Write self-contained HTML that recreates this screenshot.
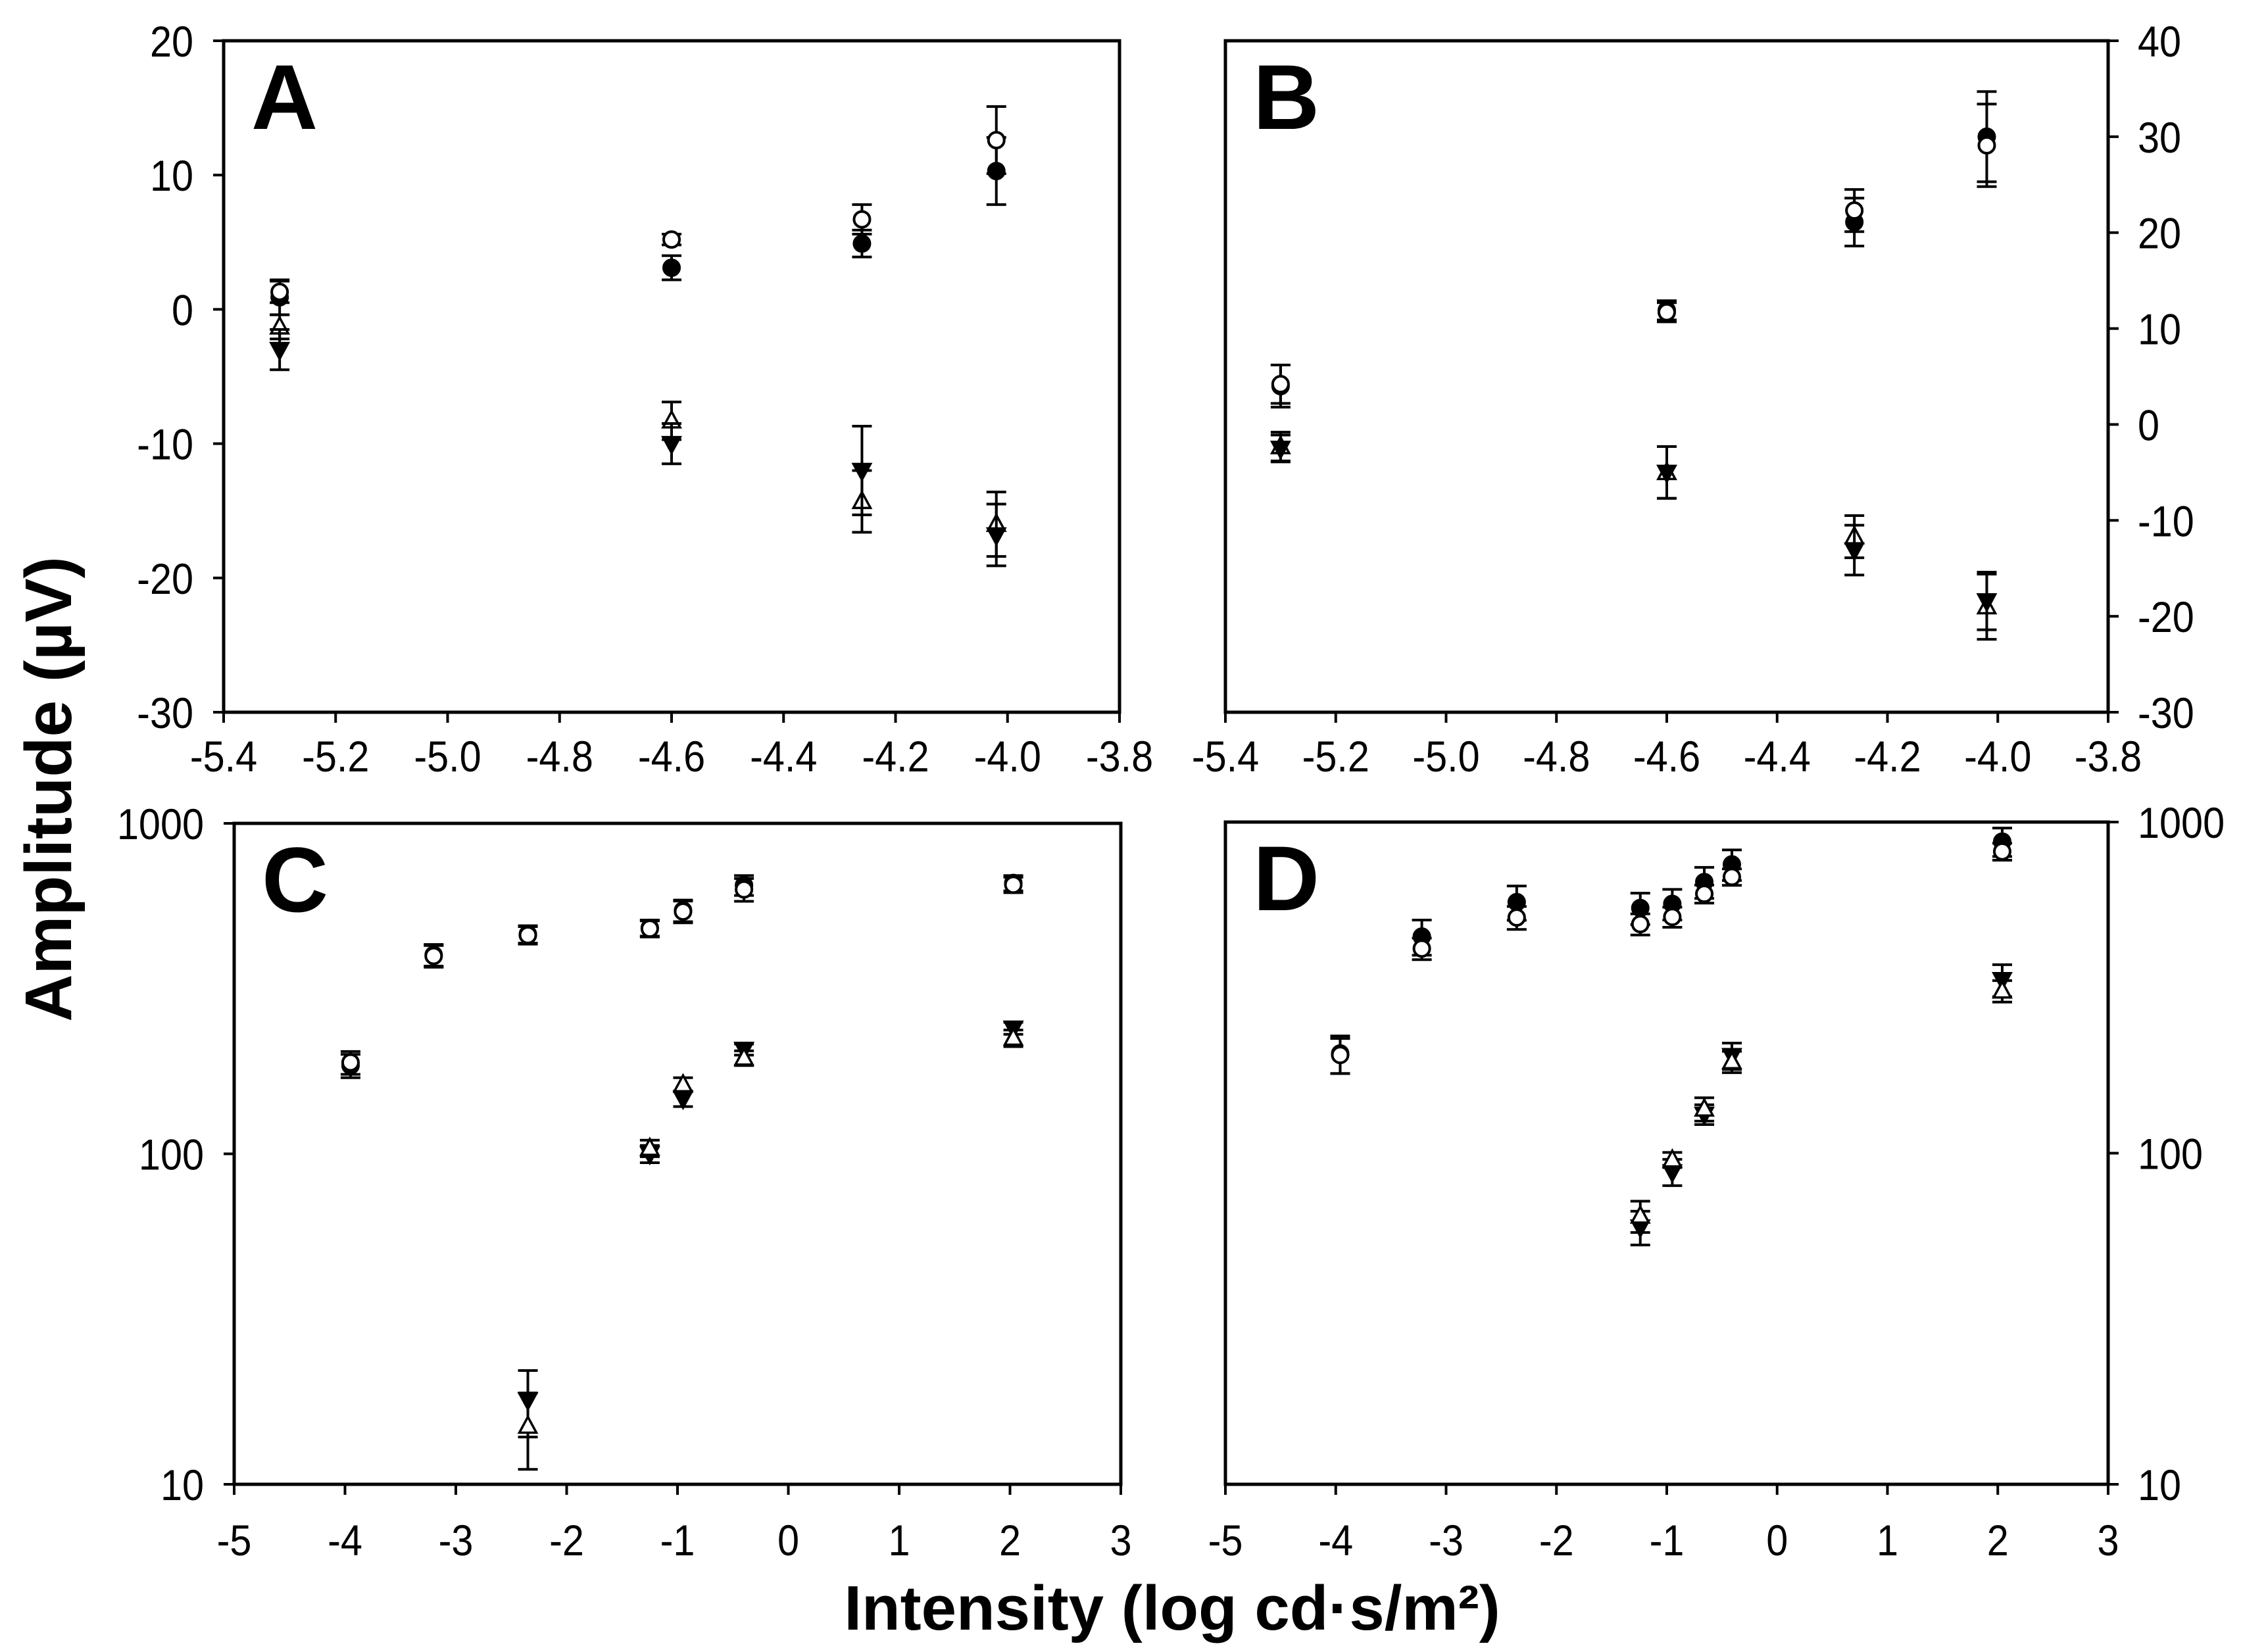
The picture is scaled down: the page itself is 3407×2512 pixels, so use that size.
<!DOCTYPE html>
<html><head><meta charset="utf-8"><style>
html,body{margin:0;padding:0;background:#fff}
svg{display:block}
text{font-family:"Liberation Sans",Arial,sans-serif;fill:#000}
</style></head><body>
<svg id="chart" width="3407" height="2512" viewBox="0 0 3407 2512" xmlns="http://www.w3.org/2000/svg">
<text x="0" y="0" transform="translate(108,1200) rotate(-90)" text-anchor="middle" font-size="100" font-weight="bold">Amplitude (µV)</text>
<text x="1782" y="2478" text-anchor="middle" font-size="96" font-weight="bold">Intensity (log cd·s/m²)</text>
</svg>
<script>
// Panel A
const xA=[-5.3,-4.6,-4.26,-4.02];
const aOpenCirc=[1.3,5.2,6.7,12.6];const aOpenCircErr=[0.8,0.4,1.1,2.5];
const aFillCirc=[0.9,3.1,4.9,10.3];const aFillCircErr=[1.3,0.9,1.0,2.5];
const aOpenTri=[-1.3,-8.3,-14.3,-16.0];const aOpenTriErr=[0.9,1.4,2.3,2.4];
const aFillTri=[-3.0,-10.0,-12.0,-16.8];const aFillTriErr=[1.5,1.5,3.3,2.3];
// Panel B
const xB=[-5.3,-4.6,-4.26,-4.02];
const bOpenCirc=[4.2,11.7,22.3,29.1];const bOpenCircErr=[2.0,1.0,2.2,4.3];
const bFillCirc=[4.0,11.9,21.1,30.0];const bFillCircErr=[2.2,1.0,2.5,4.7];
const bOpenTri=[-2.3,-5.0,-11.7,-19.0];const bOpenTriErr=[1.5,2.7,2.2,3.4];
const bFillTri=[-2.5,-5.0,-13.1,-18.4];const bFillTriErr=[1.4,2.7,2.6,3.0];
// Panel C
const xC=[-3.95,-3.2,-2.35,-1.25,-0.95,-0.4,2.03];
const cOpenCirc=[189,397,459,480,541,631,652];const cOpenCircErr=[15,30,28,27,41,50,35];
const cFillCirc=[185,400,462,483,545,650,660];const cFillCircErr=[15,30,28,27,41,45,35];
const xCT=[-2.35,-1.25,-0.95,-0.4,2.03];
const cOpenTri=[15,104,162,195,224];const cOpenTriErr=[3.9,6,8,10,13];
const cFillTri=[18,100,147,207,240];const cFillTriErr=[4.1,6,8,8,10];
// Panel D
const xD=[-3.96,-3.22,-2.36,-1.24,-0.95,-0.66,-0.41,2.04];
const dFillCirc=[200,451,573,550,566,659,745,873];const dFillCircErr=[26,55,68,60,60,71,79,86];
const dOpenCirc=[198,415,515,492,517,607,683,815];const dOpenCircErr=[24,31,41,36,36,38,39,48];
const xDT=[-1.24,-0.95,-0.66,-0.41,2.04];
const dOpenTri=[64.6,95.5,136,189,309];const dOpenTriErr=[7,5,11,14,23];
const dFillTri=[59.8,87.8,131,197,334];const dFillTriErr=[7,8,9,18,37];
// ticks
const xTicksAB=[-5.4,-5.2,-5.0,-4.8,-4.6,-4.4,-4.2,-4.0,-3.8];
const xTickLabelsAB=["-5.4","-5.2","-5.0","-4.8","-4.6","-4.4","-4.2","-4.0","-3.8"];
const yTicksA=[-30,-20,-10,0,10,20];
const yTicksB=[-30,-20,-10,0,10,20,30,40];
const xTicksCD=[-5,-4,-3,-2,-1,0,1,2,3];
const yTicksCD=[10,100,1000];

const NS="http://www.w3.org/2000/svg";
const svg=document.getElementById('chart');
function mk(tag,attrs,parent){const e=document.createElementNS(NS,tag);for(const k in attrs)e.setAttribute(k,attrs[k]);(parent||svg).appendChild(e);return e;}

function panel(p){
  const g=mk('g',{});
  
  
  const sx=v=>p.l+(v-p.x0)/(p.x1-p.x0)*(p.r-p.l);
  const sy=p.log?(v=>p.b-(Math.log10(v)-Math.log10(p.y0))/(Math.log10(p.y1)-Math.log10(p.y0))*(p.b-p.t))
                 :(v=>p.b-(v-p.y0)/(p.y1-p.y0)*(p.b-p.t));
  const fr=mk('rect',{x:p.l,y:p.t,width:p.r-p.l,height:p.b-p.t,fill:'none',stroke:'#000','stroke-width':5},g);
  
  
  p.xt.forEach((v,i)=>{
    const x=sx(v);
    const tk=mk('line',{x1:x,x2:x,y1:p.b,y2:p.b+16,stroke:'#000','stroke-width':4},g);
    
    
    const t=mk('text',{x:0,y:0,transform:`translate(${x},${p.b+p.xoff}) scale(0.9,1)`,'text-anchor':'middle','font-size':66},g);
    t.textContent=p.xl[i];
    
    
  });
  p.yt.forEach(v=>{
    const y=sy(v);
    const right=p.side==='right';
    const x0=right?p.r:p.l, x1=right?p.r+16:p.l-16;
    const tk=mk('line',{x1:x0,x2:x1,y1:y,y2:y,stroke:'#000','stroke-width':4},g);
    
    
    const t=mk('text',{x:0,y:0,transform:`translate(${right?p.r+45:p.l-46},${y+24}) scale(0.9,1)`,'text-anchor':right?'start':'end','font-size':66},g);
    t.textContent=String(v);
    
    
  });
  const L=mk('text',{x:p.l+42,y:p.t+134,'font-size':140,'font-weight':'bold'},g);
  L.textContent=p.letter;
  
  
  p.series.forEach(s=>{
    const sg=mk('g',{},g);
    
    
    s.x.forEach((xv,i)=>{
      const cx=sx(xv), v=s.y[i], e=s.e[i];
      const yc=sy(v), yu=sy(v+e), yd=sy(Math.max(v-e,p.log?p.y0*1.001:-1e9));
      const eb=mk('path',{d:`M${cx},${yu}V${yd}M${cx-15},${yu}H${cx+15}M${cx-15},${yd}H${cx+15}`,stroke:'#000','stroke-width':4,fill:'none'},sg);
      
      
      const fill=s.filled?'#000':'#fff';
      let m;
      if(s.shape==='circle'){
        m=mk('circle',{cx:cx,cy:yc,r:12,fill:fill,stroke:'#000','stroke-width':4},sg);
      }else if(s.shape==='up'){
        m=mk('path',{d:`M${cx},${yc-14}L${cx+13},${yc+10}L${cx-13},${yc+10}Z`,fill:fill,stroke:'#000','stroke-width':3.5},sg);
      }else{
        m=mk('path',{d:`M${cx},${yc+14}L${cx+13},${yc-10}L${cx-13},${yc-10}Z`,fill:fill,stroke:'#000','stroke-width':3.5},sg);
      }
      
      
    });
  });
}
function S(name,x,y,e,shape,filled){return {name,x,y,e,shape,filled};}

panel({letter:'A',l:340,r:1702,t:62,b:1083,x0:-5.4,x1:-3.8,y0:-30,y1:20,log:false,side:'left',xoff:90,
  xt:xTicksAB,xl:xTickLabelsAB,yt:yTicksA,series:[
  S('series-filled-circle',xA,aFillCirc,aFillCircErr,'circle',true),
  S('series-open-circle',xA,aOpenCirc,aOpenCircErr,'circle',false),
  S('series-open-triangle',xA,aOpenTri,aOpenTriErr,'up',false),
  S('series-filled-triangle',xA,aFillTri,aFillTriErr,'down',true)]});
panel({letter:'B',l:1863,r:3205,t:62,b:1083,x0:-5.4,x1:-3.8,y0:-30,y1:40,log:false,side:'right',xoff:90,
  xt:xTicksAB,xl:xTickLabelsAB,yt:yTicksB,series:[
  S('series-filled-circle',xB,bFillCirc,bFillCircErr,'circle',true),
  S('series-open-circle',xB,bOpenCirc,bOpenCircErr,'circle',false),
  S('series-open-triangle',xB,bOpenTri,bOpenTriErr,'up',false),
  S('series-filled-triangle',xB,bFillTri,bFillTriErr,'down',true)]});
panel({letter:'C',l:356,r:1704,t:1252,b:2257,x0:-5,x1:3,y0:10,y1:1000,log:true,side:'left',xoff:108,
  xt:xTicksCD,xl:xTicksCD.map(String),yt:yTicksCD,series:[
  S('series-filled-circle',xC,cFillCirc,cFillCircErr,'circle',true),
  S('series-open-circle',xC,cOpenCirc,cOpenCircErr,'circle',false),
  S('series-filled-triangle',xCT,cFillTri,cFillTriErr,'down',true),
  S('series-open-triangle',xCT,cOpenTri,cOpenTriErr,'up',false)]});
panel({letter:'D',l:1863,r:3205,t:1250,b:2257,x0:-5,x1:3,y0:10,y1:1000,log:true,side:'right',xoff:108,
  xt:xTicksCD,xl:xTicksCD.map(String),yt:yTicksCD,series:[
  S('series-filled-circle',xD,dFillCirc,dFillCircErr,'circle',true),
  S('series-open-circle',xD,dOpenCirc,dOpenCircErr,'circle',false),
  S('series-filled-triangle',xDT,dFillTri,dFillTriErr,'down',true),
  S('series-open-triangle',xDT,dOpenTri,dOpenTriErr,'up',false)]});
</script>
</body></html>
